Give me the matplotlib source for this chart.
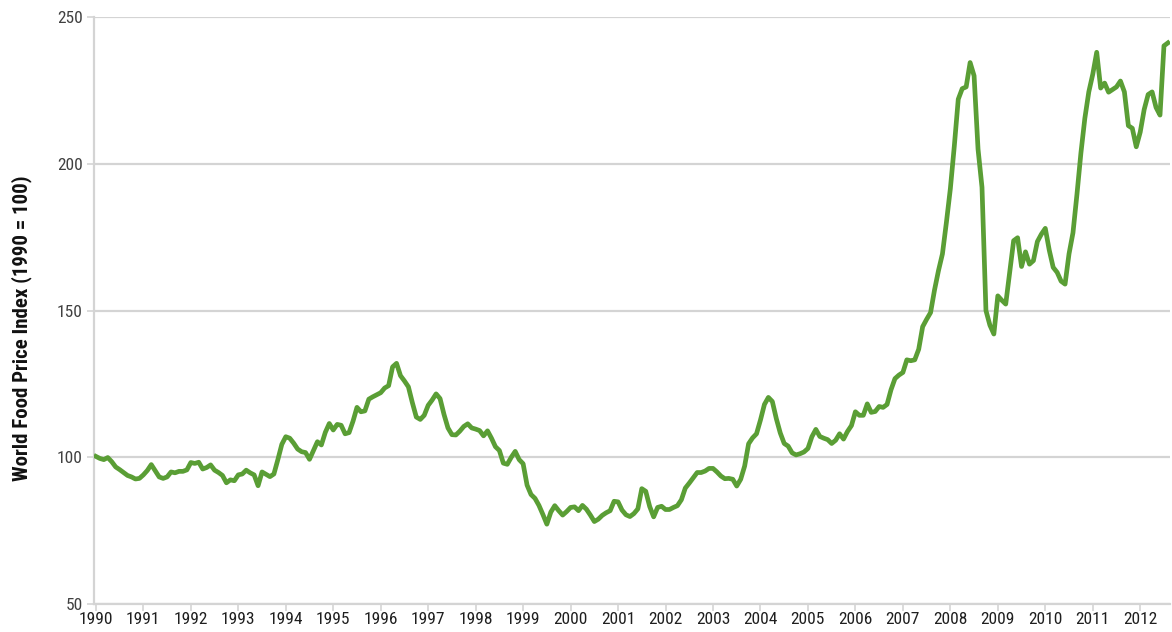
import numpy as np
import matplotlib
matplotlib.use("Agg")
from matplotlib import pyplot as plt
from matplotlib import font_manager

# monthly index values (1990 = 100)
y1990 = [100.3, 99.6, 99.2, 99.9, 98.5, 96.7, 95.8, 94.8, 93.8, 93.3, 92.6, 92.8]
y1991 = [94.0, 95.5, 97.5, 95.4, 93.3, 92.8, 93.3, 95.0, 94.7, 95.2, 95.2, 95.7]
y1992 = [98.2, 97.9, 98.3, 96.0, 96.5, 97.4, 95.6, 94.8, 93.8, 91.3, 92.3, 92.0]
y1993 = [94.0, 94.3, 95.6, 94.7, 94.0, 90.3, 95.0, 94.2, 93.4, 94.3, 99.2, 104.4]
y1994 = [107.0, 106.5, 104.8, 102.8, 101.9, 101.6, 99.3, 102.3, 105.3, 104.2, 108.5, 111.5]
y1995 = [109.3, 111.2, 110.9, 108.0, 108.4, 112.3, 117.0, 115.5, 115.8, 119.8, 120.6, 121.3]
y1996 = [122.0, 123.6, 124.4, 130.8, 132.0, 127.8, 126.0, 124.0, 118.6, 113.7, 112.9, 114.3]
y1997 = [117.7, 119.5, 121.6, 120.0, 114.6, 110.0, 107.7, 107.6, 108.9, 110.5, 111.4, 110.0]
y1998 = [109.6, 109.1, 107.3, 109.0, 106.5, 103.6, 102.3, 98.0, 97.6, 100.0, 102.0, 99.2]
y1999 = [97.8, 90.5, 87.3, 86.0, 83.6, 80.5, 77.2, 81.3, 83.5, 81.8, 80.3, 81.5]
y2000 = [82.9, 83.1, 81.8, 83.6, 82.3, 80.3, 78.1, 78.9, 80.2, 81.1, 81.8, 85.0]
y2001 = [84.8, 82.0, 80.4, 79.8, 80.8, 82.4, 89.3, 88.4, 83.2, 79.7, 82.9, 83.3]
y2002 = [82.2, 82.2, 82.9, 83.5, 85.5, 89.5, 91.2, 93.0, 94.8, 94.8, 95.3, 96.2]
y2003 = [96.2, 95.0, 93.6, 92.7, 92.8, 92.5, 90.2, 92.5, 97.0, 104.6, 106.6, 108.0]
y2004 = [112.7, 118.0, 120.4, 119.0, 113.2, 108.3, 104.7, 103.8, 101.5, 100.8, 101.2, 101.8]
y2005 = [103.0, 107.0, 109.5, 107.1, 106.5, 106.0, 104.7, 105.8, 108.0, 106.2, 108.8, 110.8]
y2006 = [115.5, 114.3, 114.3, 118.2, 115.3, 115.6, 117.3, 117.0, 118.0, 123.0, 126.8, 128.0]
y2007 = [128.9, 133.2, 132.9, 133.2, 136.8, 144.5, 147.0, 149.3, 157.0, 163.6, 169.3, 180.0]
y2008 = [191.5, 206.0, 222.0, 225.6, 226.2, 234.5, 230.0, 205.0, 192.0, 150.0, 145.0, 142.0]
y2009 = [155.0, 153.5, 152.2, 163.0, 173.8, 174.8, 165.0, 170.0, 165.8, 167.0, 173.5, 176.0]
y2010 = [178.0, 170.6, 164.7, 163.0, 160.0, 159.0, 169.3, 176.5, 189.5, 203.6, 215.5, 224.5]
y2011 = [230.5, 238.0, 225.8, 227.5, 224.4, 225.3, 226.2, 228.2, 224.5, 213.0, 212.1, 205.8]
y2012 = [210.8, 218.5, 223.6, 224.5, 219.2, 216.6, 240.2, 241.2]

index = np.array(y1990 + y1991 + y1992 + y1993 + y1994 + y1995 + y1996 + y1997
                 + y1998 + y1999 + y2000 + y2001 + y2002 + y2003 + y2004 + y2005
                 + y2006 + y2007 + y2008 + y2009 + y2010 + y2011 + y2012)
t = 1990 + np.arange(len(index)) / 12.0

years = list(range(1990, 2013))
yticks = [50, 100, 150, 200, 250]

# a condensed face if one is installed, else plain DejaVu Sans
names = {f.name for f in font_manager.fontManager.ttflist}
narrow = [n for n in ["Roboto Condensed", "Liberation Sans Narrow", "Open Sans Condensed",
                      "DejaVu Sans Condensed"] if n in names]
plt.rcParams['font.family'] = narrow + ['DejaVu Sans']
plt.rcParams['font.stretch'] = 'condensed'

fig = plt.figure(figsize=(11.72, 6.32), dpi=100)
ax = fig.add_axes([0.0802, 0.0443, 0.9178, 0.9287])

ax.plot(t, index, color="#5a9e35", linewidth=3.4, solid_joinstyle="round", zorder=3)

ax.set_xlim(1989.96, 2012.62)
ax.set_ylim(50, 250)
ax.set_xticks(years)
ax.set_xticklabels([str(y) for y in years], fontsize=12.5, color="#1f1f1f")
ax.set_yticks(yticks)
ax.set_yticklabels([str(v) for v in yticks], fontsize=12.5, color="#404040")

ax.grid(True, axis="y", color="#d4d4d4", linewidth=1.6, zorder=0)
for s in ["top", "right"]:
    ax.spines[s].set_visible(False)
for s in ["left", "bottom"]:
    ax.spines[s].set_color("#d4d4d4")
    ax.spines[s].set_linewidth(1.6)
ax.tick_params(axis="both", color="#d4d4d4", width=1.2, length=5)
ax.tick_params(axis="x", pad=1)
ax.tick_params(axis="y", pad=3)

ax.set_ylabel("World Food Price Index (1990 = 100)", fontsize=15, fontweight="bold",
              color="#111111")
ax.yaxis.set_label_coords(-0.058, 0.47)

plt.savefig("out.png", dpi=100)
